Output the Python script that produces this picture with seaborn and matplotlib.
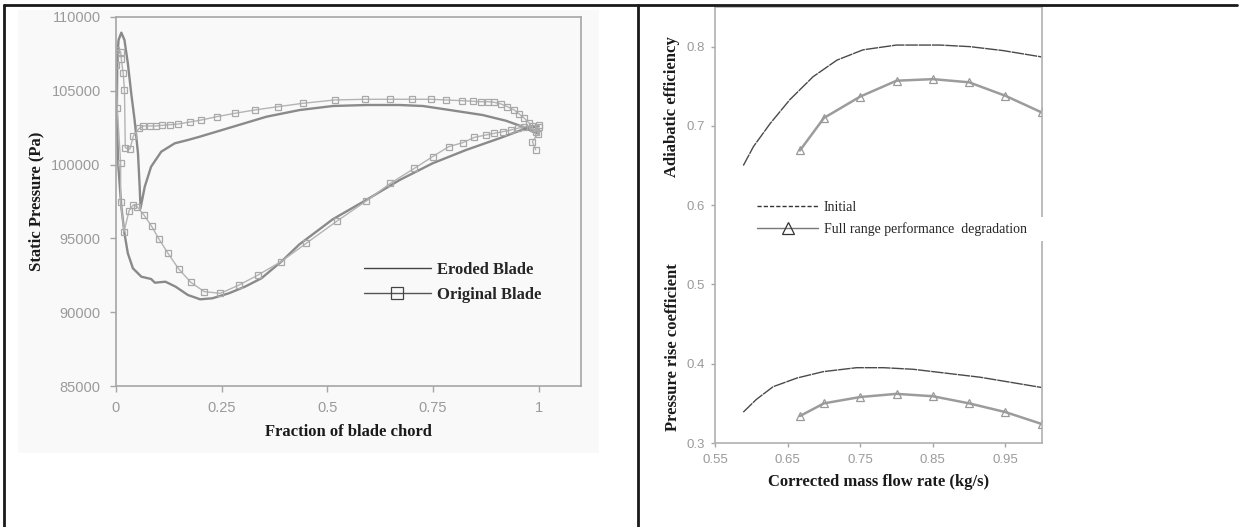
import numpy as np
import pandas as pd
import seaborn as sns
import matplotlib
matplotlib.use("Agg")
import matplotlib.pyplot as plt
from matplotlib.lines import Line2D
from matplotlib.patches import Rectangle

# ---------------- data: left chart (static pressure along blade chord) ----------------
eroded_x = [1.0, 0.97, 0.907, 0.828, 0.749, 0.671, 0.592, 0.513, 0.434, 0.392, 0.344,
            0.305, 0.267, 0.228, 0.199, 0.170, 0.141, 0.117, 0.092, 0.083, 0.060, 0.040,
            0.028, 0.020, 0.0126, 0.005, 0.002, 0.003, 0.006, 0.0126, 0.020, 0.028, 0.036,
            0.044, 0.052, 0.056, 0.058, 0.068, 0.083, 0.107, 0.139, 0.170, 0.198, 0.277,
            0.356, 0.435, 0.513, 0.592, 0.671, 0.726, 0.789, 0.867, 0.922, 0.962, 0.986, 1.0]
eroded_p = [102600, 102460, 101782, 100989, 100088, 98957, 97602, 96300, 94600, 93450, 92297,
            91728, 91281, 90942, 90874, 91166, 91728, 92066, 91999, 92250, 92405, 92975,
            93990, 95345, 97148, 100100, 103500, 107087, 108440, 108940, 108440, 106863, 104830,
            103022, 100766, 98502, 97042, 98502, 99857, 100874, 101443, 101666, 101890, 102568,
            103245, 103700, 103970, 104038, 104038, 103970, 103700, 103360, 102975, 102568, 102229, 102100]

original_x = [1.0, 0.985, 0.966, 0.950, 0.934, 0.915, 0.895, 0.875, 0.848, 0.820, 0.787, 0.749,
              0.706, 0.649, 0.592, 0.523, 0.450, 0.390, 0.336, 0.291, 0.247, 0.209, 0.177, 0.148,
              0.123, 0.102, 0.084, 0.066, 0.050, 0.041, 0.031, 0.019, 0.011, 0.011, 0.003, 0.0,
              0.001, 0.011, 0.0126, 0.017, 0.020, 0.022, 0.033, 0.041, 0.055, 0.065, 0.080, 0.094,
              0.108, 0.128, 0.147, 0.175, 0.202, 0.238, 0.281, 0.328, 0.383, 0.442, 0.517, 0.588,
              0.647, 0.700, 0.745, 0.781, 0.819, 0.844, 0.863, 0.879, 0.895, 0.911, 0.926, 0.942,
              0.954, 0.966, 0.978, 0.986, 0.993, 1.0, 0.998, 0.985, 0.993]
original_p = [102700, 102620, 102568, 102460, 102344, 102229, 102120, 102005, 101849, 101484, 101213, 100540,
              99750, 98733, 97534, 96179, 94667, 93422, 92520, 91840, 91280, 91390, 92025, 92940,
              93990, 94938, 95840, 96586, 97150, 97263, 96880, 95454, 97487, 100088, 103814, 106748,
              107764, 107650, 107134, 106186, 105054, 101145, 101056, 101935, 102459, 102615, 102615, 102615,
              102660, 102703, 102751, 102886, 103022, 103245, 103474, 103700, 103923, 104153, 104377, 104424,
              104424, 104424, 104424, 104377, 104330, 104289, 104262, 104262, 104221, 104106, 103923, 103700,
              103428, 103137, 102798, 102459, 102229, 102550, 102100, 101550, 101000]

chord_ticks = [0, 0.25, 0.5, 0.75, 1]
chord_tick_labels = ["0", "0.25", "0.5", "0.75", "1"]
pressure_ticks = [85000, 90000, 95000, 100000, 105000, 110000]

# ---------------- data: right chart (compressor performance) ----------------
eff_initial_flow = [0.589, 0.603, 0.626, 0.653, 0.685, 0.718, 0.754, 0.800, 0.860, 0.901, 0.947, 1.0]
eff_initial = [0.650, 0.674, 0.703, 0.733, 0.762, 0.783, 0.796, 0.802, 0.802, 0.800, 0.795, 0.787]
prc_initial_flow = [0.589, 0.607, 0.630, 0.663, 0.699, 0.745, 0.782, 0.823, 0.869, 0.915, 0.961, 1.0]
prc_initial = [0.339, 0.355, 0.371, 0.382, 0.390, 0.395, 0.395, 0.393, 0.388, 0.383, 0.376, 0.370]
degraded_flow = [0.667, 0.70, 0.75, 0.80, 0.85, 0.90, 0.95, 1.0]
eff_degraded = [0.669, 0.710, 0.737, 0.757, 0.759, 0.755, 0.738, 0.717]
prc_degraded = [0.334, 0.350, 0.358, 0.362, 0.359, 0.350, 0.339, 0.324]

flow_ticks = [0.55, 0.65, 0.75, 0.85, 0.95]
flow_tick_labels = ["0.55", "0.65", "0.75", "0.85", "0.95"]
coef_ticks = [0.3, 0.4, 0.5, 0.6, 0.7, 0.8]
coef_tick_labels = ["0.3", "0.4", "0.5", "0.6", "0.7", "0.8"]

# ---------------- styling ----------------
sns.set_theme(style="white")
plt.rcParams["font.family"] = ["Liberation Sans", "DejaVu Sans"]
SERIF = ["Liberation Serif", "DejaVu Serif"]
TICK_COLOR = "#9a9a9a"
SPINE_COLOR = "#a6a6a6"
PANEL_BG = "#f9f9f9"

W, H = 1239, 527
fig = plt.figure(figsize=(W / 100, H / 100), dpi=100)
fig.patch.set_facecolor("white")

# light background of the left embedded picture
fig.add_artist(Rectangle((18 / W, 1 - 453 / H), 581 / W, 443 / H, transform=fig.transFigure,
                         facecolor=PANEL_BG, edgecolor="none", zorder=-5))

# ---------- left axes ----------
ax1 = fig.add_axes([116 / W, 1 - 386 / H, 465 / W, 369 / H])
ax1.set_facecolor(PANEL_BG)
sns.lineplot(x=eroded_x, y=eroded_p, sort=False, estimator=None, ax=ax1,
             color="#8a8a8a", lw=1.7)
sns.lineplot(x=original_x, y=original_p, sort=False, estimator=None, ax=ax1,
             color="#b4b4b4", lw=1.0, marker="s", markersize=5,
             markerfacecolor="none", markeredgecolor="#a8a8a8", markeredgewidth=0.9)
ax1.set_xlim(0, 1.1)
ax1.set_ylim(85000, 110000)
ax1.set_xticks(chord_ticks)
ax1.set_xticklabels(chord_tick_labels)
ax1.set_yticks(pressure_ticks)
ax1.set_yticklabels([str(v) for v in pressure_ticks])
ax1.tick_params(axis="both", bottom=True, left=True, direction="out", length=4, width=1.0,
                color=SPINE_COLOR, labelcolor=TICK_COLOR, labelsize=10.5)
ax1.tick_params(axis="x", pad=7)
ax1.tick_params(axis="y", pad=7)
for s in ax1.spines.values():
    s.set_color(SPINE_COLOR)
    s.set_linewidth(1.2)
ax1.set_xlabel("Fraction of blade chord", family=SERIF, fontweight="bold", fontsize=12, color="#1a1a1a")
ax1.set_ylabel("Static Pressure (Pa)", family=SERIF, fontweight="bold", fontsize=12, color="#1a1a1a")
ax1.xaxis.set_label_coords(0.5, (386 - 424) / 369)
ax1.yaxis.set_label_coords((44 - 116) / 465, 0.5)

h_eroded = Line2D([], [], color="#444444", lw=1.0)
h_orig = Line2D([], [], color="#555555", lw=1.0, marker="s", markersize=9,
                markerfacecolor="none", markeredgecolor="#444444", markeredgewidth=0.9)
ax1.legend([h_eroded, h_orig], ["Eroded Blade", "Original Blade"], loc="upper left",
           bbox_to_anchor=((364 - 116) / 465, (386 - 262) / 369), frameon=False,
           borderpad=0, borderaxespad=0, handlelength=4.0, handletextpad=0.4,
           labelspacing=0.55, prop={"family": SERIF, "weight": "bold", "size": 12})

# ---------- right axes ----------
ax2 = fig.add_axes([715 / W, 1 - 443 / H, 326.7 / W, 436 / H])
ax2.set_facecolor("white")
sns.lineplot(x=eff_initial_flow, y=eff_initial, sort=False, estimator=None, ax=ax2,
             color="#4a4a4a", lw=1.0, linestyle=(0, (9, 0.6)))
sns.lineplot(x=prc_initial_flow, y=prc_initial, sort=False, estimator=None, ax=ax2,
             color="#4a4a4a", lw=1.0, linestyle=(0, (9, 0.6)))
sns.lineplot(x=degraded_flow, y=eff_degraded, sort=False, estimator=None, ax=ax2,
             color="#9c9c9c", lw=1.8, marker="^", markersize=5.5,
             markerfacecolor="none", markeredgecolor="#999999", markeredgewidth=0.9)
sns.lineplot(x=degraded_flow, y=prc_degraded, sort=False, estimator=None, ax=ax2,
             color="#9c9c9c", lw=1.8, marker="^", markersize=5.5,
             markerfacecolor="none", markeredgecolor="#999999", markeredgewidth=0.9)
ax2.set_xlim(0.55, 1.0)
ax2.set_ylim(0.3, 0.85)
ax2.set_xticks(flow_ticks)
ax2.set_xticklabels(flow_tick_labels)
ax2.set_yticks(coef_ticks)
ax2.set_yticklabels(coef_tick_labels)
ax2.tick_params(axis="both", bottom=True, left=True, direction="out", length=3, width=1.0,
                color=SPINE_COLOR, labelcolor=TICK_COLOR, labelsize=9.5)
ax2.tick_params(axis="x", pad=5)
ax2.tick_params(axis="y", pad=4)
for s in ax2.spines.values():
    s.set_color("#b0b0b0")
    s.set_linewidth(1.2)
ax2.set_xlabel("Corrected mass flow rate (kg/s)", family=SERIF, fontweight="bold", fontsize=12,
               color="#1a1a1a")
ax2.xaxis.set_label_coords(0.5, (443 - 474) / 436)
ax2.set_ylabel("")

# white patch behind legend that interrupts the right spine
ax2.add_patch(Rectangle(((745 - 715) / 326.7, (443 - 241) / 436), (1047 - 745) / 326.7, 24 / 436,
                        transform=ax2.transAxes, facecolor="white", edgecolor="none",
                        clip_on=False, zorder=3))
h_init = Line2D([], [], color="#333333", lw=1.0, linestyle=(0, (3, 1.5)))
h_deg = Line2D([], [], color="#777777", lw=1.0, marker="^", markersize=9,
               markerfacecolor="none", markeredgecolor="#333333", markeredgewidth=0.9)
leg2 = ax2.legend([h_init, h_deg], ["Initial", "Full range performance  degradation"],
                  loc="upper left", bbox_to_anchor=((757 - 715) / 326.7, (443 - 201) / 436),
                  frameon=False, borderpad=0, borderaxespad=0, handlelength=4.4,
                  handletextpad=0.4, labelspacing=0.6,
                  prop={"family": SERIF, "size": 10})
leg2.set_zorder(5)

fig.text(672 / W, 1 - 107 / H, "Adiabatic efficiency", rotation=90, ha="center", va="center",
         family=SERIF, fontweight="bold", fontsize=12, color="#1a1a1a")
fig.text(673 / W, 1 - 347 / H, "Pressure rise coefficient", rotation=90, ha="center", va="center",
         family=SERIF, fontweight="bold", fontsize=12, color="#1a1a1a")

# ---------- table borders ----------
for (x0, y0, x1, y1) in [(4, 5, 1237, 5), (4, 5, 4, 527), (638, 5, 638, 527)]:
    fig.add_artist(Line2D([x0 / W, x1 / W], [1 - y0 / H, 1 - y1 / H], transform=fig.transFigure,
                          color="#1a1a1a", lw=2.0, zorder=10))

fig.savefig("out.png", dpi=100)
